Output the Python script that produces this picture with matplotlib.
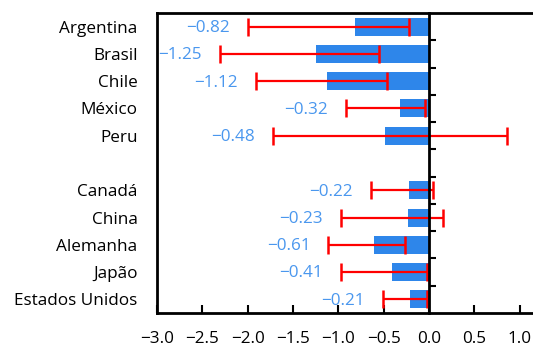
import matplotlib
matplotlib.use("Agg")
import matplotlib.pyplot as plt
import numpy as np

plt.rcParams['font.family'] = ['Open Sans', 'DejaVu Sans']

# Latin America first, then the other economies
latam = ["Argentina", "Brasil", "Chile", "México", "Peru"]
others = ["Canadá", "China", "Alemanha", "Japão", "Estados Unidos"]

estimate = [-0.82, -1.25, -1.12, -0.32, -0.48,
            -0.22, -0.23, -0.61, -0.41, -0.21]
ci_low = [-2.00, -2.31, -1.91, -0.92, -1.72,
          -0.64, -0.97, -1.11, -0.97, -0.51]
ci_high = [-0.22, -0.55, -0.46, -0.04, 0.86,
           0.04, 0.15, -0.26, -0.02, -0.02]

xticks = [-3.0, -2.5, -2.0, -1.5, -1.0, -0.5, 0.0, 0.5, 1.0]

bar_blue = '#2E86EA'
text_blue = '#4A97EE'
err_red = '#FF0000'

labels = latam + others
# one empty slot between the two groups
ypos = np.r_[np.arange(len(latam)), np.arange(len(others)) + len(latam) + 1]
est = np.array(estimate)
lo = np.array(ci_low)
hi = np.array(ci_high)

fig = plt.figure(figsize=(5.33, 3.47), dpi=100)
ax = fig.add_axes([157 / 533, 34 / 347, 408 / 533, 300 / 347])

ax.barh(ypos, est, height=0.66, color=bar_blue, zorder=2)
ax.errorbar(est, ypos, xerr=[est - lo, hi - est], fmt='none', ecolor=err_red,
            elinewidth=1.6, capsize=6.5, capthick=1.8, zorder=3)

for y, v, l in zip(ypos, est, lo):
    ax.annotate(f"{v:.2f}".replace('-', '\u2212'), xy=(l, y), xytext=(-13, -1),
                textcoords='offset points', ha='right', va='center',
                color=text_blue, fontsize=12.3)

ax.set_xlim(-3.0, 1.5)
ax.set_ylim(len(labels) + 0.5, -0.5)

ax.set_xticks(xticks)
ax.set_xticklabels([f"{t:.1f}".replace('-', '\u2212') for t in xticks])
ax.tick_params(axis='x', direction='in', length=6, width=1.5, pad=13,
               labelsize=12.3, top=False)

ax.set_yticks(ypos)
ax.set_yticklabels(labels)
ax.set_yticks(np.arange(0.5, len(labels), 1.0), minor=True)
ax.tick_params(axis='y', which='major', left=False, right=False,
               labelleft=True, labelright=False, length=0, pad=14, labelsize=12.3)
ax.tick_params(axis='y', which='minor', left=False, right=True,
               direction='out', length=5, width=1.5)

# vertical axis line sits at zero
ax.spines['right'].set_position(('data', 0))
for s in ax.spines.values():
    s.set_linewidth(2)
    s.set_zorder(4)

fig.savefig("out.png", dpi=100)
